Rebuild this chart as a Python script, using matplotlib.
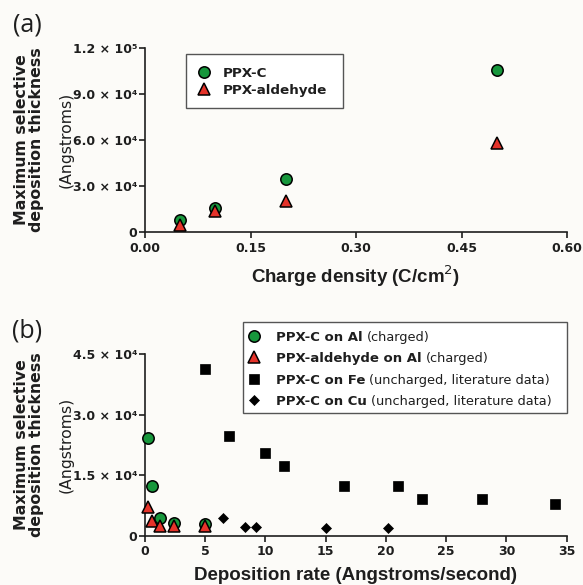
import matplotlib
matplotlib.use("Agg")
import matplotlib.pyplot as plt
from matplotlib.lines import Line2D
from matplotlib.patches import Rectangle

plt.rcParams['font.family'] = ['Liberation Sans', 'DejaVu Sans']

# panel (a): charge density vs max thickness
charge = [0.05, 0.10, 0.20, 0.50]
ppxc_a = [8000, 15600, 34500, 106000]
ald_a = [4700, 13900, 20600, 57900]

# panel (b): deposition rate vs max thickness
rate_c = [0.25, 0.6, 1.25, 2.4, 5.0]
ppxc_b = [24300, 12300, 4300, 3100, 3000]
rate_ald = [0.27, 0.6, 1.25, 2.4, 5.0]
ald_b = [7000, 3700, 2500, 2300, 2300]
rate_fe = [5, 7, 10, 11.5, 16.5, 21, 23, 28, 34]
fe_b = [41300, 24800, 20500, 17400, 12400, 12400, 9100, 9100, 7800]
rate_cu = [6.5, 8.3, 9.2, 15, 20.2]
cu_b = [4500, 2200, 2200, 1800, 1800]

xticks_a = [0, 0.15, 0.30, 0.45, 0.60]
xlabels_a = ["0.00", "0.15", "0.30", "0.45", "0.60"]
yticks_a = [0, 30000, 60000, 90000, 120000]
ylabels_a = ["0", "3.0 × 10⁴", "6.0 × 10⁴", "9.0 × 10⁴", "1.2 × 10⁵"]
xticks_b = [0, 5, 10, 15, 20, 25, 30, 35]
yticks_b = [0, 15000, 30000, 45000]
ylabels_b = ["0", "1.5 × 10⁴", "3.0 × 10⁴", "4.5 × 10⁴"]

GREEN = "#17973c"
RED = "#e5332a"
INK = "#1e1e1e"
WIDE = "DejaVu Sans"

styles = {
    "c": dict(marker="o", ms=8.2, mfc=GREEN, mec="black", mew=1.1),
    "ald": dict(marker="^", ms=8.6, mfc=RED, mec="black", mew=1.1),
    "fe": dict(marker="s", ms=7, mfc="black", mec="black", mew=0.5),
    "cu": dict(marker="D", ms=5.6, mfc="black", mec="black", mew=0.5),
}

fig = plt.figure(figsize=(5.83, 5.85), dpi=100, facecolor="#fcfbf8")
W, H = 583, 585


def fx(px):
    return px / W


def fy(py):
    return 1 - py / H


def style_axes(ax, xt, xl, yt, yl, xlim, ylim):
    ax.set_facecolor("none")
    for s in ["top", "right"]:
        ax.spines[s].set_visible(False)
    for s in ["left", "bottom"]:
        ax.spines[s].set_linewidth(1.2)
        ax.spines[s].set_color(INK)
    ax.set_xlim(*xlim)
    ax.set_ylim(*ylim)
    ax.set_xticks(xt)
    ax.set_xticklabels(xl)
    ax.set_yticks(yt)
    ax.set_yticklabels(yl)
    ax.tick_params(direction="out", length=4, width=1.2, color=INK,
                   labelsize=9, labelcolor=INK)
    ax.tick_params(axis="x", pad=3)
    ax.tick_params(axis="y", pad=1.5)
    for t in ax.get_xticklabels() + ax.get_yticklabels():
        t.set_fontweight("bold")
        t.set_family(WIDE)


def ylabel_block(yc):
    fig.text(fx(21), fy(yc), "Maximum selective", rotation=90, ha="center",
             va="center", fontsize=11.3, fontweight="bold", color=INK, family=WIDE)
    fig.text(fx(37), fy(yc), "deposition thickness", rotation=90, ha="center",
             va="center", fontsize=11.3, fontweight="bold", color=INK, family=WIDE)
    fig.text(fx(66), fy(yc), "(Angstroms)", rotation=90, ha="center",
             va="center", fontsize=11.3, color=INK, family=WIDE)


def draw_legend(rows, box, marker_x, text_x, y0, dy, size, extra_size):
    x0, y_top, x1, y_bot = box
    fig.add_artist(Rectangle((fx(x0), fy(y_bot)), (x1 - x0) / W, (y_bot - y_top) / H,
                             transform=fig.transFigure, facecolor="white",
                             edgecolor="#555555", linewidth=1.0, zorder=5))
    names = []
    for i, (key, name, extra) in enumerate(rows):
        y = y0 + i * dy
        fig.add_artist(Line2D([fx(marker_x)], [fy(y)], transform=fig.transFigure,
                              ls="none", zorder=6, **styles[key]))
        t = fig.text(fx(text_x), fy(y), name, ha="left", va="center_baseline",
                     fontsize=size, fontweight="bold", color=INK, family=WIDE, zorder=6)
        names.append((t, extra, y))
    fig.canvas.draw()
    for t, extra, y in names:
        if extra:
            bb = t.get_window_extent()
            fig.text((bb.x1 + 4) / W, fy(y), extra, ha="left", va="center_baseline",
                     fontsize=extra_size, color=INK, family=WIDE, zorder=6)


# ---- panel (a)
ax1 = fig.add_axes([fx(145), fy(232.3), 422 / W, 184.3 / H])
ax1.plot(charge, ppxc_a, ls="none", clip_on=False, zorder=3, **styles["c"])
ax1.plot(charge, ald_a, ls="none", clip_on=False, zorder=4, **styles["ald"])
style_axes(ax1, xticks_a, xlabels_a, yticks_a, ylabels_a, (0, 0.6), (0, 120000))
ax1.set_xlabel("Charge density (C/cm$^2$)", fontsize=13.5, fontweight="bold",
               color=INK, labelpad=6)
ylabel_block(140)
fig.text(fx(27), fy(25), "(a)", fontsize=18, ha="center", va="center",
         family="Open Sans", color=INK)

# ---- panel (b)
ax2 = fig.add_axes([fx(145), fy(535.7), 421.7 / W, 181.4 / H])
ax2.plot(rate_c, ppxc_b, ls="none", clip_on=False, zorder=3, **styles["c"])
ax2.plot(rate_ald, ald_b, ls="none", clip_on=False, zorder=4, **styles["ald"])
ax2.plot(rate_fe, fe_b, ls="none", clip_on=False, zorder=3, **styles["fe"])
ax2.plot(rate_cu, cu_b, ls="none", clip_on=False, zorder=3, **styles["cu"])
style_axes(ax2, xticks_b, [str(v) for v in xticks_b], yticks_b, ylabels_b, (0, 35), (0, 45000))
ax2.set_xlabel("Deposition rate (Angstroms/second)", fontsize=13.5, fontweight="bold",
               color=INK, labelpad=6)
ylabel_block(445)
fig.text(fx(27), fy(331), "(b)", fontsize=18, ha="center", va="center",
         family="Open Sans", color=INK)

# legends
draw_legend([("c", "PPX-C", None), ("ald", "PPX-aldehyde", None)],
            (186, 54, 343, 108), 204, 223, 71.7, 17.6, 9.7, 9.3)
draw_legend([("c", "PPX-C on Al", "(charged)"),
             ("ald", "PPX-aldehyde on Al", "(charged)"),
             ("fe", "PPX-C on Fe", "(uncharged, literature data)"),
             ("cu", "PPX-C on Cu", "(uncharged, literature data)")],
            (242.7, 322.3, 567.3, 412.7), 254, 276, 336, 21.3, 9.5, 9.3)

fig.savefig("out.png", dpi=100, facecolor=fig.get_facecolor())
